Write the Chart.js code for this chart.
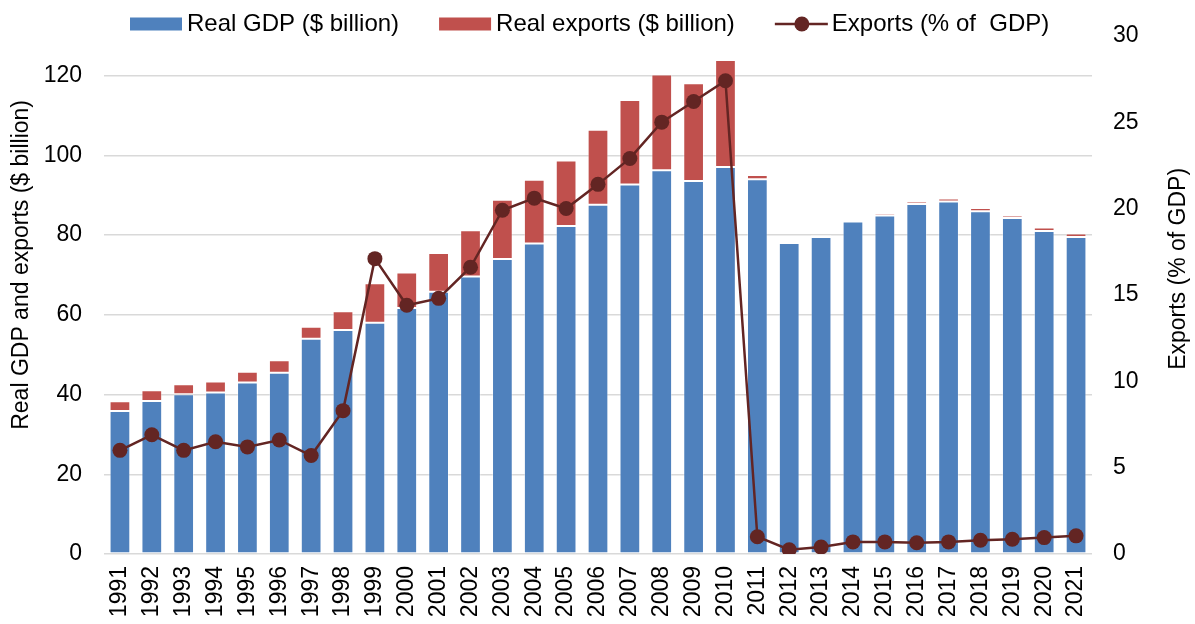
<!DOCTYPE html>
<html>
<head>
<meta charset="utf-8">
<script src="https://cdn.jsdelivr.net/npm/chart.js@4.4.0/dist/chart.umd.min.js"></script>
<style>
  html, body { margin: 0; padding: 0; background: #ffffff; }
  #wrap { width: 1195px; height: 624px; }
</style>
</head>
<body>
<div id="wrap"><canvas id="gdpChart" width="1195" height="624"></canvas></div>
<script>
// ===========================
// DATA
// ===========================
const years = ['1991', '1992', '1993', '1994', '1995', '1996', '1997', '1998', '1999', '2000',
    '2001', '2002', '2003', '2004', '2005', '2006', '2007', '2008', '2009', '2010',
    '2011', '2012', '2013', '2014', '2015', '2016', '2017', '2018', '2019', '2020', '2021'];

const realGdp = [35.9, 38.4, 40.1, 40.5, 43.0, 45.5, 54.0, 56.2, 58.0, 61.7,
    65.8, 69.6, 74.0, 77.9, 82.3, 87.6, 92.7, 96.3, 93.6, 97.1,
    94.0, 78.0, 79.5, 83.4, 84.9, 87.8, 88.4, 86.0, 84.3, 81.0, 79.5];

const realExports = [2.4, 2.7, 2.5, 2.8, 2.7, 3.1, 3.0, 4.7, 9.9, 8.9,
    9.7, 11.6, 14.9, 16.0, 16.4, 18.8, 21.2, 24.0, 24.5, 26.8,
    1.1, 0.2, 0.5, 0.5, 0.6, 0.6, 0.8, 0.8, 0.6, 0.9, 0.9];

const exportsShare = [6.0, 6.9, 6.0, 6.5, 6.2, 6.6, 5.7, 8.3, 17.1, 14.4,
    14.8, 16.6, 19.9, 20.6, 20.0, 21.4, 22.9, 25.0, 26.2, 27.4,
    1.0, 0.25, 0.4, 0.7, 0.7, 0.65, 0.7, 0.8, 0.85, 0.95, 1.05];

const legendLabels = ['Real GDP ($ billion)', 'Real exports ($ billion)', 'Exports (% of  GDP)'];
const leftTitle = 'Real GDP and exports ($ billion)';
const rightTitle = 'Exports (% of GDP)';

const BLUE = '#4f81bd';
const RED = '#c0504d';
const LINE = '#632523';
const FONT = "'Liberation Sans', Arial, sans-serif";

// ===========================
// LEGEND + AXIS TITLES (drawn by hand so they can sit over the plot)
// ===========================
const overlayPlugin = {
    id: 'overlay',
    afterDraw(chart) {
        const ctx = chart.ctx;
        const area = chart.chartArea;
        ctx.save();
        ctx.fillStyle = '#000';
        ctx.textBaseline = 'middle';

        // legend
        ctx.font = '24px ' + FONT;
        const y = 24;
        let x = 130;
        const swatches = [BLUE, RED, null];
        legendLabels.forEach((label, i) => {
            if (swatches[i]) {
                ctx.fillStyle = swatches[i];
                ctx.fillRect(x, y - 6.5, 52, 13);
            } else {
                ctx.strokeStyle = LINE;
                ctx.lineWidth = 2.5;
                ctx.beginPath();
                ctx.moveTo(x, y);
                ctx.lineTo(x + 53, y);
                ctx.stroke();
                ctx.fillStyle = LINE;
                ctx.beginPath();
                ctx.arc(x + 27, y, 7.5, 0, Math.PI * 2);
                ctx.fill();
            }
            x += 57;
            ctx.fillStyle = '#000';
            ctx.textAlign = 'left';
            ctx.fillText(label, x, y);
            x += ctx.measureText(label).width + 40;
        });

        // axis titles
        ctx.font = '23px ' + FONT;
        ctx.textAlign = 'center';
        const midY = (area.top + area.bottom) / 2 - 30;
        ctx.save();
        ctx.translate(22, midY);
        ctx.rotate(-Math.PI / 2);
        ctx.fillText(leftTitle, 0, 0);
        ctx.restore();
        ctx.save();
        ctx.translate(chart.width - 16, midY + 4);
        ctx.rotate(-Math.PI / 2);
        ctx.fillText(rightTitle, 0, 0);
        ctx.restore();

        ctx.restore();
    }
};

// ===========================
// CHART
// ===========================
const ctx = document.getElementById('gdpChart');

const gdpChart = new Chart(ctx, {
    type: 'bar',
    data: {
        labels: years,
        datasets: [
            {
                type: 'line',
                label: legendLabels[2],
                data: exportsShare,
                yAxisID: 'y1',
                borderColor: LINE,
                backgroundColor: LINE,
                borderWidth: 2.5,
                pointRadius: 7.5,
                pointBackgroundColor: LINE,
                pointBorderWidth: 0,
                tension: 0,
                order: 0
            },
            {
                label: legendLabels[0],
                data: realGdp,
                backgroundColor: BLUE,
                borderColor: 'rgba(255, 255, 255, 0.35)',
                borderWidth: 1,
                borderSkipped: false,
                stack: 's',
                order: 1
            },
            {
                label: legendLabels[1],
                data: realExports,
                backgroundColor: RED,
                borderColor: 'rgba(255, 255, 255, 0.35)',
                borderWidth: 1,
                borderSkipped: false,
                stack: 's',
                order: 1
            }
        ]
    },
    options: {
        responsive: false,
        animation: false,
        layout: {
            padding: { top: 34, left: 0, right: 0, bottom: 0 }
        },
        datasets: {
            bar: { categoryPercentage: 0.65, barPercentage: 1 }
        },
        plugins: {
            legend: { display: false },
            tooltip: { enabled: false }
        },
        scales: {
            x: {
                stacked: true,
                afterFit: function (axis) { axis.height = 70; },
                grid: { display: false, drawTicks: false },
                border: { display: false },
                ticks: {
                    color: '#000',
                    font: { family: FONT, size: 23 },
                    minRotation: 90,
                    maxRotation: 90,
                    autoSkip: false,
                    padding: 12
                }
            },
            y: {
                stacked: true,
                position: 'left',
                min: 0,
                max: 130,
                afterFit: function (axis) { axis.width = 104; },
                afterBuildTicks: function (axis) {
                    axis.ticks = axis.ticks.filter(t => t.value <= 120);
                },
                grid: {
                    color: '#d9d9d9',
                    lineWidth: 1.5,
                    drawTicks: false
                },
                border: { display: false },
                ticks: {
                    stepSize: 20,
                    color: '#000',
                    font: { family: FONT, size: 23 },
                    padding: 22
                }
            },
            y1: {
                position: 'right',
                min: 0,
                max: 30,
                afterFit: function (axis) { axis.width = 103; },
                grid: { display: false, drawTicks: false },
                border: { display: false },
                ticks: {
                    stepSize: 5,
                    color: '#000',
                    font: { family: FONT, size: 23 },
                    padding: 21
                }
            }
        }
    },
    plugins: [overlayPlugin]
});
</script>
</body>
</html>
